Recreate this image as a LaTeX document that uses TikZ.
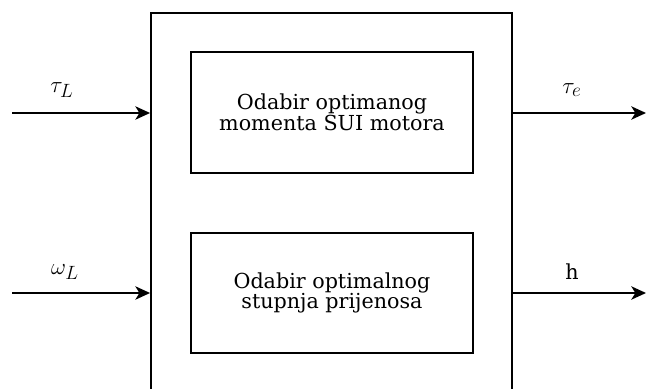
\documentclass[tikz,border=0pt]{standalone}
\usepackage{fontspec}
\setmainfont{DejaVu Serif}
\usetikzlibrary{positioning,arrows.meta}

\begin{document}
\begin{tikzpicture}[
    x=0.75pt, y=-0.75pt,
    outer/.style={rectangle,draw,line width=1.4pt,minimum width=270.75pt,minimum height=290pt},
    block/.style={rectangle,draw,line width=1.4pt,minimum width=211.5pt,minimum height=90.5pt,align=center,font=\fontsize{15.5}{15.5}\selectfont},
    sig/.style={inner sep=0pt,font=\fontsize{19}{21}\selectfont},
    flow/.style={-{Stealth[length=11pt,width=10pt,inset=3pt]},line width=1.4pt}
    ]
        \useasboundingbox (0,0) rectangle (647,389);
        \clip (0,0) rectangle (647,389);
        \node [outer](sys) at (331.5,206.5) {};
        \node [block](torque) at (332,112.5) {Odabir optimanog\\momenta SUI motora};
        \node [block](gear) at (332,293) {Odabir optimalnog\\stupnja prijenosa};
        % inputs
        \coordinate (tauin) at (12,113);
        \coordinate (omegain) at (12,293);
        \draw [flow] (tauin) -- (tauin -| sys.west);
        \draw [flow] (omegain) -- (omegain -| sys.west);
        \node [sig](tauL) at (62,90) {$\tau_L$};
        \node [sig](omegaL) at (65,272) {$\omega_L$};
        % outputs
        \coordinate (tauout) at (646,113);
        \coordinate (hout) at (646,293);
        \draw [flow] (tauout -| sys.east) -- (tauout);
        \draw [flow] (hout -| sys.east) -- (hout);
        \node [sig](taue) at (572,90) {$\tau_e$};
        \node [sig,font=\fontsize{15.5}{17}\selectfont](h) at (572,272) {h};
\end{tikzpicture}
\end{document}
